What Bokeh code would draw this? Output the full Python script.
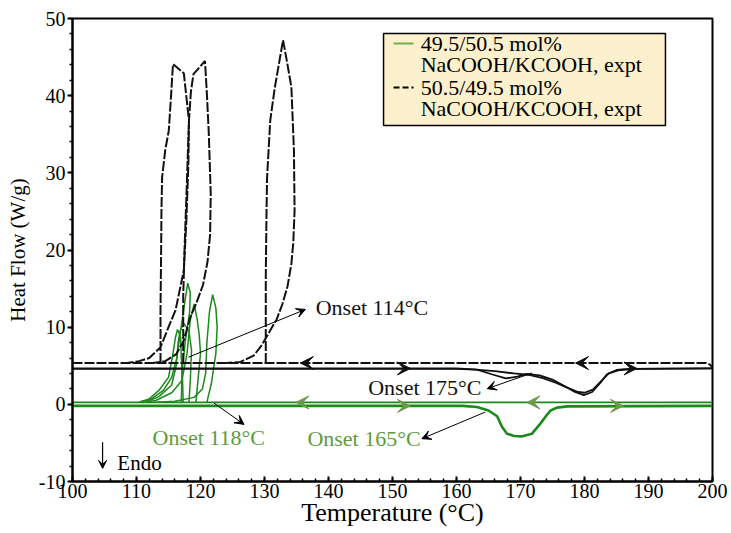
import numpy as np
from bokeh.plotting import figure
from bokeh.models import (Range1d, Label, Arrow, VeeHead, BoxAnnotation, SingleIntervalTicker,
                          CustomJSTickFormatter)
from bokeh.embed import file_html
from bokeh.resources import INLINE

FONT = "Liberation Serif"
BLACK = "#111111"
GREEN = "#1b8a1b"
GREEN_TXT = "#5e9b3f"
GREEN_HEAD = "#6d9a48"
GREEN_LEG = "#6cb04e"

# ---------------- data (Temperature degC, Heat flow W/g) ----------------
# 50.5/49.5 mol% NaCOOH/KCOOH (black) -- cooling runs
blk_cool_T = [100.0, 199.0, 199.6, 200.0]
blk_cool_v = [5.35, 5.35, 5.15, 4.75]

blkA_T = [113.75, 113.75, 113.85, 113.9, 114.0, 114.5, 115.05, 115.4, 115.7, 117.4, 117.9, 118.2,
          118.1, 117.8, 117.4, 116.1, 115.0, 113.75, 112.0, 110.4, 108.5]
blkA_v = [5.35, 12.2, 20.0, 25.1, 29.4, 33.0, 35.5, 40.0, 44.1, 42.9, 39.0, 36.8,
          31.0, 24.0, 17.4, 12.2, 10.0, 7.4, 6.0, 5.6, 5.35]

blkB_T = [117.3, 117.3, 117.5, 117.8, 118.2, 118.5, 118.9, 120.7, 121.0, 121.3, 121.6, 121.5,
          121.1, 120.4, 119.3, 118.4, 117.4, 116.2, 114.5, 112.5]
blkB_v = [5.35, 14.0, 20.0, 27.0, 36.8, 40.5, 42.8, 44.5, 40.2, 35.0, 27.3, 22.0,
          18.5, 15.5, 13.0, 11.3, 8.3, 6.5, 5.6, 5.35]

blkC_T = [130.2, 130.2, 130.3, 130.4, 130.9, 131.6, 132.9, 133.6, 134.2, 134.6, 134.7, 134.5,
          134.2, 133.6, 132.8, 131.9, 130.9, 129.6, 128.3, 126.25, 124.0]
blkC_v = [5.35, 16.5, 24.0, 29.4, 36.8, 41.0, 47.2, 44.0, 41.1, 32.9, 25.1, 21.0,
          18.2, 15.3, 13.0, 11.0, 9.6, 7.7, 6.3, 5.5, 5.35]

# black heating runs
blkH1_T = [100.0, 160.0, 163.2, 165.5, 167.7, 169.5, 171.0, 173.0, 175.0, 177.0, 178.5, 179.9,
           181.2, 182.5, 183.5, 185.0, 187.0, 200.0]
blkH1_v = [4.65, 4.65, 4.5, 3.9, 3.35, 3.6, 3.95, 3.75, 3.2, 2.3, 1.6, 1.2,
           1.6, 2.8, 3.9, 4.45, 4.6, 4.65]
blkH2_T = [100.0, 160.0, 163.0, 166.0, 169.0, 171.5, 173.5, 175.5, 177.5, 179.0, 180.0, 181.3,
           182.6, 183.8, 185.5, 188.0, 200.0]
blkH2_v = [4.6, 4.6, 4.5, 4.3, 4.0, 3.8, 3.4, 2.8, 2.1, 1.6, 1.5, 1.9,
           3.0, 4.0, 4.45, 4.6, 4.65]

# 49.5/50.5 mol% NaCOOH/KCOOH (green) -- cooling runs
grn_cool_T = [100.0, 200.0]
grn_cool_v = [0.25, 0.25]

grn1_T = [117.0, 117.1, 117.6, 118.3, 118.4, 118.0, 117.5, 116.9, 116.3, 115.5, 114.2, 112.5, 110.5]
grn1_v = [0.25, 4.0, 8.0, 12.0, 14.5, 15.7, 13.0, 9.6, 6.0, 3.5, 1.8, 0.8, 0.3]
grn2_T = [121.0, 121.2, 121.7, 122.4, 122.6, 122.4, 121.9, 121.4, 121.0, 120.8, 120.3, 119.0, 116.0, 113.0]
grn2_v = [0.25, 1.0, 2.7, 6.6, 10.0, 12.5, 14.2, 12.0, 8.0, 4.0, 2.0, 0.9, 0.4, 0.27]
grn3_T = [117.3, 117.2, 117.0, 116.9, 116.4, 116.1, 115.6, 115.0, 113.5, 111.8, 110.5]
grn3_v = [0.25, 3.0, 6.0, 8.7, 9.7, 8.7, 6.1, 3.5, 1.8, 0.6, 0.3]
grn4_T = [119.3, 119.5, 120.0, 119.8, 119.5, 119.0, 118.4, 117.9, 117.1, 115.5, 113.0, 111.0]
grn4_v = [0.25, 2.2, 6.6, 9.0, 10.9, 13.0, 10.9, 6.6, 3.1, 1.5, 0.5, 0.25]
grn5_T = [118.2, 118.4, 118.6, 118.2, 117.4, 116.8, 116.5, 116.2, 115.5, 113.5, 111.5]
grn5_v = [0.25, 3.0, 7.0, 9.5, 10.5, 9.5, 8.0, 5.0, 2.5, 1.0, 0.3]

# green heating run
grn_heat_T = [100.0, 161.0, 163.2, 165.0, 166.35, 167.1, 167.9, 169.0, 170.3, 171.8, 173.1, 174.0,
              174.7, 175.7, 177.3, 200.0]
grn_heat_v = [-0.2, -0.2, -0.35, -0.8, -1.55, -2.9, -3.8, -4.1, -4.15, -3.8, -2.5, -1.5,
              -0.8, -0.43, -0.26, -0.2]

# direction arrows on baselines (temperature of arrow tip)
blk_cool_arrows = [135.6, 178.6]
blk_heat_arrows = [152.8, 188.2]
grn_cool_arrows = [134.9, 171.0]
grn_heat_arrows = [152.8, 186.1]

# ---------------- figure ----------------
p = figure(width=731, height=533, x_range=Range1d(100, 200), y_range=Range1d(-10, 50),
           output_backend="svg", toolbar_location=None,
           min_border_left=72, min_border_right=19, min_border_top=18, min_border_bottom=52)
p.background_fill_color = "white"
p.border_fill_color = "white"
p.outline_line_color = "black"
p.outline_line_width = 2
p.xgrid.grid_line_color = None
p.ygrid.grid_line_color = None

p.xaxis.ticker = SingleIntervalTicker(interval=10, num_minor_ticks=5)
p.yaxis.ticker = SingleIntervalTicker(interval=10, num_minor_ticks=5)
for ax in (p.xaxis, p.yaxis):
    ax.axis_line_width = 2
    ax.axis_line_color = "black"
    ax.major_tick_line_width = 2
    ax.minor_tick_line_width = 1.5
    ax.major_label_text_font = FONT
    ax.major_label_text_font_size = "20px"
    ax.major_label_text_color = "black"
    ax.axis_label_text_font = FONT
    ax.axis_label_text_font_style = "normal"
    ax.axis_label_text_color = "black"
    ax.formatter = CustomJSTickFormatter(code="return tick.toFixed(0);")
# y ticks point outwards, x ticks point into the frame
p.yaxis.major_tick_out = 5
p.yaxis.major_tick_in = 0
p.yaxis.minor_tick_out = 3
p.yaxis.minor_tick_in = 0
p.yaxis.major_label_standoff = 2
p.xaxis.major_tick_out = 0
p.xaxis.major_tick_in = 5
p.xaxis.minor_tick_out = 0
p.xaxis.minor_tick_in = 3
p.xaxis.major_label_standoff = 2

p.xaxis.axis_label = "Temperature (°C)"
p.xaxis.axis_label_text_font_size = "26px"
p.xaxis.axis_label_standoff = -3
p.yaxis.axis_label = "Heat Flow (W/g)"
p.yaxis.axis_label_text_font_size = "21px"
p.yaxis.axis_label_standoff = 6

# green curves
p.line(grn_cool_T, grn_cool_v, line_color=GREEN, line_width=1.8)
p.line(grn_heat_T, grn_heat_v, line_color=GREEN, line_width=2.6)
for T, v in [(grn1_T, grn1_v), (grn2_T, grn2_v), (grn3_T, grn3_v), (grn4_T, grn4_v), (grn5_T, grn5_v)]:
    p.line(T, v, line_color=GREEN, line_width=1.5)

# black curves
p.line(blkH1_T, blkH1_v, line_color=BLACK, line_width=1.8)
p.line(blkH2_T, blkH2_v, line_color=BLACK, line_width=1.8)
for T, v in [(blk_cool_T, blk_cool_v), (blkA_T, blkA_v), (blkB_T, blkB_v), (blkC_T, blkC_v)]:
    p.line(T, v, line_color=BLACK, line_width=2, line_dash="10 2")

# direction arrowheads
def head_arrows(xs, yv, direction, color):
    for x in xs:
        p.add_layout(Arrow(end=VeeHead(size=13, fill_color=color, line_color=color),
                           x_start=x - direction * 1.2, y_start=yv, x_end=x, y_end=yv,
                           line_color=color, line_width=1.5))

head_arrows(blk_cool_arrows, blk_cool_v[0], -1, BLACK)
head_arrows(blk_heat_arrows, blkH1_v[0], 1, BLACK)
head_arrows(grn_cool_arrows, grn_cool_v[0], -1, GREEN_HEAD)
head_arrows(grn_heat_arrows, grn_heat_v[0], 1, GREEN_HEAD)

# onset annotations: (text, colour, label x, label y, arrow start, arrow end)
notes = [
    ("Onset 114°C", BLACK, 138.0, 12.6, (118.1, 6.1), (136.4, 12.3)),
    ("Onset 175°C", BLACK, 146.2, 2.2, (171.8, 4.06), (164.8, 2.03)),
    ("Onset 118°C", GREEN_TXT, 112.5, -4.3, (122.1, 0.17), (126.8, -2.6)),
    ("Onset 165°C", GREEN_TXT, 136.7, -4.45, (164.5, -1.0), (154.6, -4.45)),
]
for txt, col, lx, ly, a0, a1 in notes:
    p.add_layout(Arrow(end=VeeHead(size=9, fill_color="black", line_color="black", line_width=1),
                       x_start=a0[0], y_start=a0[1], x_end=a1[0], y_end=a1[1],
                       line_color="black", line_width=1))
    p.add_layout(Label(x=lx, y=ly, text=txt, text_font=FONT, text_font_size="22px",
                       text_color=col, text_baseline="middle", text_align="left"))

# Endo marker
p.add_layout(Arrow(end=VeeHead(size=8, fill_color="black", line_color="black", line_width=1),
                   x_start=104.7, y_start=-4.9, x_end=104.7, y_end=-8.3,
                   line_color="black", line_width=1.2))
p.add_layout(Label(x=107.0, y=-7.6, text="Endo", text_font=FONT, text_font_size="21px",
                   text_color="black", text_baseline="middle"))

# legend (box, sample lines, two-line labels)
leg_box = dict(left=148.6, right=192.65, bottom=36.14, top=48.06)
p.add_layout(BoxAnnotation(fill_color="#fdf0cc", fill_alpha=1.0, line_color="black",
                           line_width=1.5, line_alpha=1.0, level="annotation", **leg_box))
leg_lines = [46.76, 44.04, 41.06, 38.34]
leg_texts = ["49.5/50.5 mol%", "NaCOOH/KCOOH, expt", "50.5/49.5 mol%", "NaCOOH/KCOOH, expt"]
for yv, t in zip(leg_lines, leg_texts):
    p.add_layout(Label(x=154.4, y=yv, text=t, text_font=FONT, text_font_size="22px",
                       text_color="black", text_baseline="middle"))
p.add_layout(Arrow(end=None, x_start=150.16, y_start=leg_lines[0], x_end=153.28, y_end=leg_lines[0],
                   line_color=GREEN_LEG, line_width=2))
p.add_layout(Arrow(end=None, x_start=150.16, y_start=leg_lines[2], x_end=153.28, y_end=leg_lines[2],
                   line_color="black", line_width=2, line_dash="6 3"))

open("out.html", "w").write(file_html(p, INLINE))
